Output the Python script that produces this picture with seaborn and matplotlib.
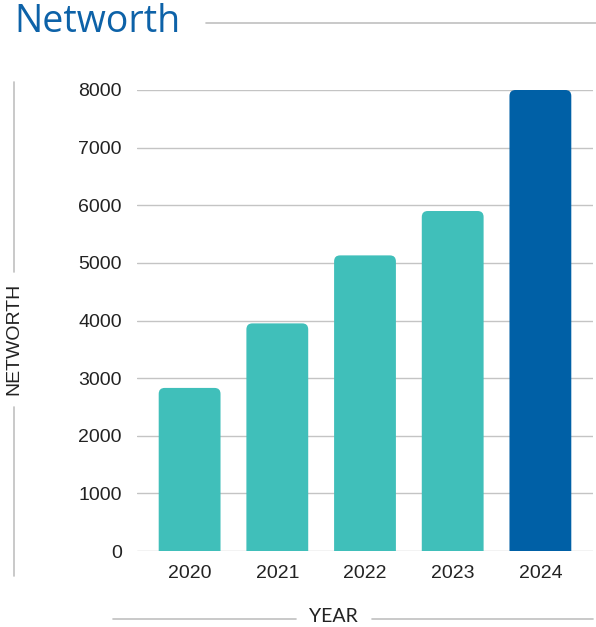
import numpy as np
import pandas as pd
import matplotlib
matplotlib.use('Agg')
import matplotlib.pyplot as plt
import seaborn as sns
from matplotlib.patches import FancyBboxPatch
from matplotlib.lines import Line2D

years = ['2020', '2021', '2022', '2023', '2024']
networth = [2830, 3950, 5130, 5900, 8000]
bar_colors = ['#40BFBA', '#40BFBA', '#40BFBA', '#40BFBA', '#0060A6']

sns.set_theme(style='white')
plt.rcParams['font.family'] = ['Liberation Sans', 'DejaVu Sans']

df = pd.DataFrame({'year': years, 'networth': networth})

fig = plt.figure(figsize=(5.96, 6.27), dpi=100)
ax = fig.add_axes([137/596, 1 - 551/627, (593 - 137)/596, (551 - 90)/627])

sns.barplot(data=df, x='year', y='networth', hue='year', palette=bar_colors,
            saturation=1, legend=False, width=0.705, ax=ax, zorder=3)

ax.set_ylim(0, 8000)
ax.set_xlim(-0.6, 4.6)
ax.set_yticks(np.arange(0, 8001, 1000))
ax.yaxis.grid(True, color='#c4c4c4', linewidth=1.0, zorder=0)
ax.xaxis.grid(False)
for s in ax.spines.values():
    s.set_visible(False)
ax.tick_params(axis='both', length=0, labelsize=14, labelcolor='#222222')
ax.tick_params(axis='y', pad=11)
ax.tick_params(axis='x', pad=10)
ax.set_xlabel('')
ax.set_ylabel('')

# rounded top corners: replace each bar with a rounded box extending below 0
px_x = 1 / 88.0
px_y = 8000 / 461.0
r = 6 * px_x
for p in list(ax.patches):
    x0, w, h = p.get_x(), p.get_width(), p.get_height()
    fc = p.get_facecolor()
    p.set_visible(False)
    extra = 20 * px_y
    box = FancyBboxPatch((x0, -extra), w, h + extra,
                         boxstyle=f'round,pad=0,rounding_size={r}',
                         mutation_aspect=px_y / px_x,
                         facecolor=fc, edgecolor='none', zorder=3,
                         clip_on=True)
    ax.add_patch(box)

# title and decorative lines
fig.text(14/596, 1 - 22/627, 'Networth', fontsize=27, color='#0D62A8',
         family=['Open Sans', 'DejaVu Sans'],
         va='center', ha='left')
line_c = '#c0c0c0'
fig.add_artist(Line2D([206/596, 1.0], [1 - 23/627] * 2, color=line_c, lw=1.2))

fig.text(14/596, 1 - 339/627, 'NETWORTH', rotation=90, fontsize=14,
         color='#222222', va='center', ha='center')
fig.add_artist(Line2D([14/596] * 2, [1 - 82/627, 1 - 272/627], color=line_c, lw=1.2))
fig.add_artist(Line2D([14/596] * 2, [1 - 407/627, 1 - 576/627], color=line_c, lw=1.2))

fig.text(333/596, 1 - 617/627, 'YEAR', fontsize=14, color='#222222',
         va='center', ha='center', family=['Lato', 'DejaVu Sans'])
fig.add_artist(Line2D([113/596, 296/596], [1 - 619/627] * 2, color=line_c, lw=1.2))
fig.add_artist(Line2D([372/596, 593/596], [1 - 619/627] * 2, color=line_c, lw=1.2))

fig.savefig('out.png', dpi=100)
